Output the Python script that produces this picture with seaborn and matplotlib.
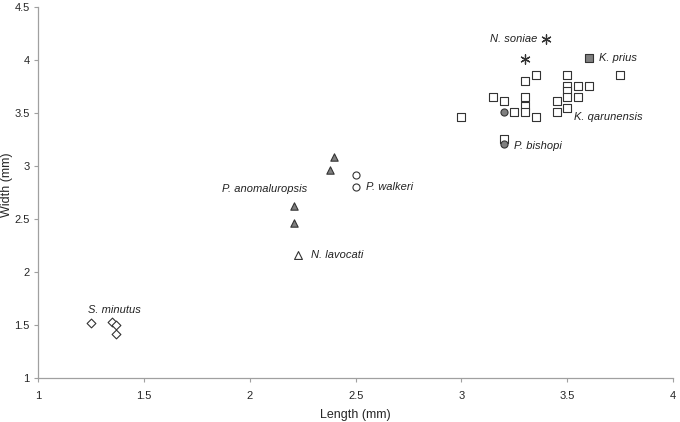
import matplotlib
matplotlib.use("Agg")
import matplotlib.pyplot as plt
import seaborn as sns
import pandas as pd

# ======= measured values (mm) =======
s_minutus_len = [1.25, 1.35, 1.37, 1.37]
s_minutus_wid = [1.52, 1.53, 1.50, 1.42]

p_anomaluropsis_len = [2.40, 2.38, 2.21, 2.21]
p_anomaluropsis_wid = [3.09, 2.96, 2.62, 2.46]

n_lavocati_len = [2.23]
n_lavocati_wid = [2.16]

p_walkeri_len = [2.50, 2.50]
p_walkeri_wid = [2.92, 2.80]

p_bishopi_len = [3.20, 3.20]
p_bishopi_wid = [3.51, 3.21]

n_soniae_len = [3.40, 3.30]
n_soniae_wid = [4.20, 4.01]

k_prius_len = [3.60]
k_prius_wid = [4.02]

k_qarunensis_len = [3.35, 3.30, 3.50, 3.75, 3.50, 3.55, 3.60, 3.50, 3.50, 3.55,
                    3.15, 3.20, 3.30, 3.30, 3.30, 3.25, 3.45, 3.45, 3.50, 3.35,
                    3.00, 3.20]
k_qarunensis_wid = [3.86, 3.80, 3.86, 3.86, 3.76, 3.76, 3.76, 3.71, 3.65, 3.65,
                    3.65, 3.61, 3.65, 3.57, 3.51, 3.51, 3.61, 3.51, 3.55, 3.46,
                    3.46, 3.26]

x_ticks = [1, 1.5, 2, 2.5, 3, 3.5, 4]
x_tick_labels = ["1", "1.5", "2", "2.5", "3", "3.5", "4"]
y_ticks = [1, 1.5, 2, 2.5, 3, 3.5, 4, 4.5]
y_tick_labels = ["1", "1.5", "2", "2.5", "3", "3.5", "4", "4.5"]

groups = [
    # name, lengths, widths, marker, face, size
    ("K. qarunensis", k_qarunensis_len, k_qarunensis_wid, "s", "white", 30),
    ("S. minutus", s_minutus_len, s_minutus_wid, "D", "white", 20),
    ("P. anomaluropsis", p_anomaluropsis_len, p_anomaluropsis_wid, "^", "#7f7f7f", 28),
    ("N. lavocati", n_lavocati_len, n_lavocati_wid, "^", "white", 32),
    ("P. walkeri", p_walkeri_len, p_walkeri_wid, "o", "white", 26),
    ("P. bishopi", p_bishopi_len, p_bishopi_wid, "o", "#7f7f7f", 26),
    ("K. prius", k_prius_len, k_prius_wid, "s", "#7f7f7f", 30),
]

sns.set_style("white")
plt.rcParams['font.family'] = ['Liberation Sans', 'DejaVu Sans']

fig = plt.figure(figsize=(6.8, 4.22), dpi=100)
ax = fig.add_axes([0.056, 0.104, 0.934, 0.879])

for name, xs, ys, mk, fc, sz in groups:
    d = pd.DataFrame({"Length": xs, "Width": ys})
    sns.scatterplot(data=d, x="Length", y="Width", marker=mk, s=sz,
                    color=fc, edgecolor="#333333", linewidth=0.8, ax=ax, zorder=3)

# asterisks for N. soniae
d = pd.DataFrame({"Length": n_soniae_len, "Width": n_soniae_wid})
ax.scatter(d["Length"], d["Width"], marker=(6, 2, 0), s=45, color="#333333",
           linewidth=0.9, zorder=3)

# ======= species labels =======
lab = dict(fontsize=8, style="italic", color="#222222")
ax.text(1.36, 1.64, "S. minutus", ha="center", va="center", **lab)
ax.text(2.07, 2.78, "P. anomaluropsis", ha="center", va="center", **lab)
ax.text(2.29, 2.16, "N. lavocati", ha="left", va="center", **lab)
ax.text(2.55, 2.80, "P. walkeri", ha="left", va="center", **lab)
ax.text(3.25, 3.19, "P. bishopi", ha="left", va="center", **lab)
ax.text(3.36, 4.20, "N. soniae", ha="right", va="center", **lab)
ax.text(3.65, 4.02, "K. prius", ha="left", va="center", **lab)
ax.text(3.53, 3.46, "K. qarunensis", ha="left", va="center", **lab)

ax.set_xlim(1, 4)
ax.set_ylim(1, 4.5)
ax.set_xticks(x_ticks)
ax.set_xticklabels(x_tick_labels)
ax.set_yticks(y_ticks)
ax.set_yticklabels(y_tick_labels)
ax.set_xlabel("Length (mm)", fontsize=9, labelpad=6)
ax.set_ylabel("Width (mm)", fontsize=9)
ax.yaxis.set_label_coords(-0.039, 0.52)
ax.tick_params(axis="both", labelsize=8, length=3, width=0.8, color="#a0a0a0",
               direction="out", left=True, bottom=True, pad=3)
ax.tick_params(axis="x", pad=6)
sns.despine(ax=ax)
for sp in ["left", "bottom"]:
    ax.spines[sp].set_color("#a0a0a0")
    ax.spines[sp].set_linewidth(0.9)

fig.savefig("out.png", dpi=100)
